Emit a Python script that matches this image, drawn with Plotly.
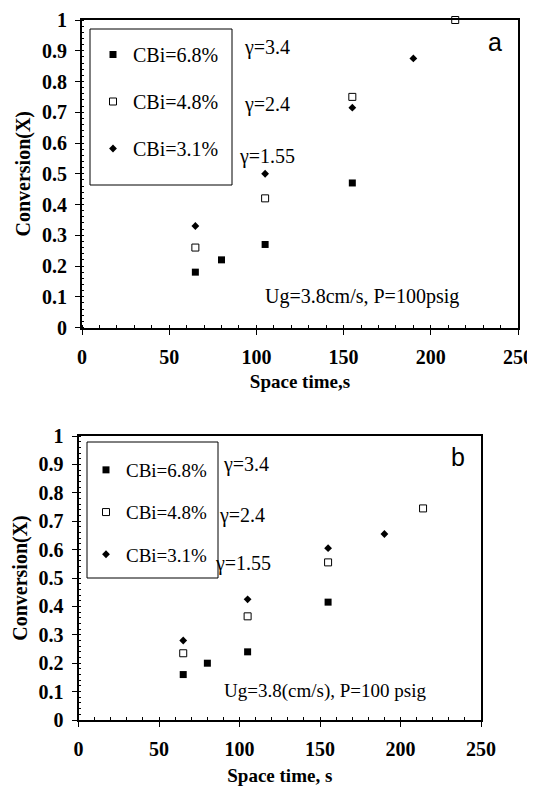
import plotly.graph_objects as go

# page body has an 8px default margin, so the figure is placed at (8, 8)
PAGE_W, PAGE_H = 535, 786
OFF = 8
W, H = PAGE_W - OFF, PAGE_H - OFF

# ---------------- data ----------------
series_names = ["CBi=6.8%", "CBi=4.8%", "CBi=3.1%"]
gamma_labels = ["γ=3.4", "γ=2.4", "γ=1.55"]

# panel a
a_x_68 = [65, 80, 105, 155]
a_y_68 = [0.18, 0.22, 0.27, 0.47]
a_x_48 = [65, 105, 155, 214]
a_y_48 = [0.26, 0.42, 0.75, 1.0]
a_x_31 = [65, 105, 155, 190]
a_y_31 = [0.33, 0.50, 0.715, 0.875]

# panel b
b_x_68 = [65, 80, 105, 155]
b_y_68 = [0.16, 0.20, 0.24, 0.415]
b_x_48 = [65, 105, 155, 214]
b_y_48 = [0.235, 0.365, 0.555, 0.745]
b_x_31 = [65, 105, 155, 190]
b_y_31 = [0.28, 0.425, 0.605, 0.655]

x_tick_vals = [0, 50, 100, 150, 200, 250]
x_tick_text = ["0", "50", "100", "150", "200", "250"]
y_tick_vals = [0, 0.1, 0.2, 0.3, 0.4, 0.5, 0.6, 0.7, 0.8, 0.9, 1]
y_tick_text = ["0", "0.1", "0.2", "0.3", "0.4", "0.5", "0.6", "0.7", "0.8", "0.9", "1"]

# ---------------- helpers ----------------
def px(x):
    return (x - OFF) / W

def py(y):
    return 1 - (y - OFF) / H

SERIF = "Liberation Serif"
SANS = "Liberation Sans"

marker_styles = [
    dict(symbol="square", size=7, color="black", line=dict(color="black", width=0)),
    dict(symbol="square", size=7, color="white", line=dict(color="black", width=1)),
    dict(symbol="diamond", size=6, color="black", line=dict(color="black", width=0)),
]

fig = go.Figure()

panel_a = [(a_x_68, a_y_68), (a_x_48, a_y_48), (a_x_31, a_y_31)]
panel_b = [(b_x_68, b_y_68), (b_x_48, b_y_48), (b_x_31, b_y_31)]

for i, (xs, ys) in enumerate(panel_a):
    fig.add_trace(go.Scatter(
        x=xs, y=ys, mode="markers", name=series_names[i],
        marker=marker_styles[i], xaxis="x", yaxis="y",
        legend="legend", legendgroup="a%d" % i, cliponaxis=False,
    ))

for i, (xs, ys) in enumerate(panel_b):
    fig.add_trace(go.Scatter(
        x=xs, y=ys, mode="markers", name=series_names[i],
        marker=marker_styles[i], xaxis="x2", yaxis="y2",
        legend="legend2", legendgroup="b%d" % i, cliponaxis=False,
    ))

tick_font = dict(family=SERIF, size=20, color="black", weight="bold")

def xaxis_style(domain, anchor, title, standoff):
    return dict(
        domain=domain, anchor=anchor, range=[0, 250],
        tickmode="array", tickvals=x_tick_vals,
        ticktext=["<b>%s</b>" % t for t in x_tick_text],
        ticks="outside", ticklen=5, tickwidth=1, tickcolor="black",
        ticklabelstandoff=5,
        showline=True, linecolor="black", linewidth=2, mirror=True,
        showgrid=False, zeroline=False, automargin=False,
        tickfont=tick_font,
        minor=dict(tickmode="linear", tick0=0, dtick=10, ticks="inside",
                   ticklen=3, tickwidth=1, tickcolor="black", showgrid=False),
        title=dict(text="<b>%s</b>" % title,
                   font=dict(family=SERIF, size=19, color="black", weight="bold"),
                   standoff=standoff),
    )

def yaxis_style(domain, anchor, title, standoff):
    return dict(
        domain=domain, anchor=anchor, range=[0, 1],
        tickmode="array", tickvals=y_tick_vals,
        ticktext=["<b>%s</b>" % t for t in y_tick_text],
        ticks="outside", ticklen=5, tickwidth=1, tickcolor="black",
        ticklabelstandoff=4,
        showline=True, linecolor="black", linewidth=2, mirror=True,
        showgrid=False, zeroline=False, automargin=False,
        tickfont=tick_font,
        minor=dict(tickmode="linear", tick0=0, dtick=0.02, ticks="inside",
                   ticklen=2, tickwidth=1, tickcolor="black", showgrid=False),
        title=dict(text="<b>%s</b>" % title,
                   font=dict(family=SERIF, size=20, color="black", weight="bold"),
                   standoff=standoff),
    )

fig.update_layout(
    width=W, height=H,
    margin=dict(l=0, r=0, t=0, b=0),
    paper_bgcolor="white", plot_bgcolor="white",
    showlegend=True,
    xaxis=xaxis_style([px(82), px(518)], "y", "Space time,s", 8),
    yaxis=yaxis_style([py(327.5), py(20)], "x", "Conversion(X)", 6),
    xaxis2=xaxis_style([px(78.6), px(481)], "y2", "Space time, s", 12),
    yaxis2=yaxis_style([py(720), py(436)], "x2", "Conversion(X)", 6),
    legend=dict(x=px(93), y=py(35), xanchor="left", yanchor="top",
                bgcolor="rgba(0,0,0,0)", borderwidth=0,
                font=dict(family=SERIF, size=20, color="black"),
                tracegroupgap=18, itemclick=False),
    legend2=dict(x=px(86), y=py(451), xanchor="left", yanchor="top",
                 bgcolor="rgba(0,0,0,0)", borderwidth=0,
                 font=dict(family=SERIF, size=19, color="black"),
                 tracegroupgap=14.5, itemclick=False),
)

# legend frames
fig.add_shape(type="rect", xref="paper", yref="paper",
              x0=px(90), x1=px(232), y0=py(185), y1=py(29),
              line=dict(color="black", width=1), fillcolor="rgba(0,0,0,0)")
fig.add_shape(type="rect", xref="paper", yref="paper",
              x0=px(87), x1=px(218), y0=py(578), y1=py(442),
              line=dict(color="black", width=1), fillcolor="rgba(0,0,0,0)")

ann_font = dict(family=SERIF, size=20, color="black")

# gamma labels panel a
for lab, (xx, yy) in zip(gamma_labels, [(242, 48), (242, 105), (237, 156)]):
    fig.add_annotation(text=lab, xref="paper", yref="paper", x=px(xx), y=py(yy),
                       xanchor="left", yanchor="middle", showarrow=False, font=ann_font)
# gamma labels panel b
for lab, (xx, yy) in zip(gamma_labels, [(221, 464), (217, 515), (213, 563)]):
    fig.add_annotation(text=lab, xref="paper", yref="paper", x=px(xx), y=py(yy),
                       xanchor="left", yanchor="middle", showarrow=False, font=ann_font)

fig.add_annotation(text="Ug=3.8cm/s, P=100psig", xref="paper", yref="paper",
                   x=px(263), y=py(296), xanchor="left", yanchor="middle",
                   showarrow=False, font=ann_font)
fig.add_annotation(text="Ug=3.8(cm/s), P=100 psig", xref="paper", yref="paper",
                   x=px(222), y=py(691), xanchor="left", yanchor="middle",
                   showarrow=False, font=dict(family=SERIF, size=19, color="black"))

fig.add_annotation(text="a", xref="paper", yref="paper", x=px(495), y=py(42),
                   xanchor="center", yanchor="middle", showarrow=False,
                   font=dict(family=SANS, size=25, color="black"))
fig.add_annotation(text="b", xref="paper", yref="paper", x=px(458), y=py(457),
                   xanchor="center", yanchor="middle", showarrow=False,
                   font=dict(family=SANS, size=25, color="black"))

fig.write_html("out.html")
